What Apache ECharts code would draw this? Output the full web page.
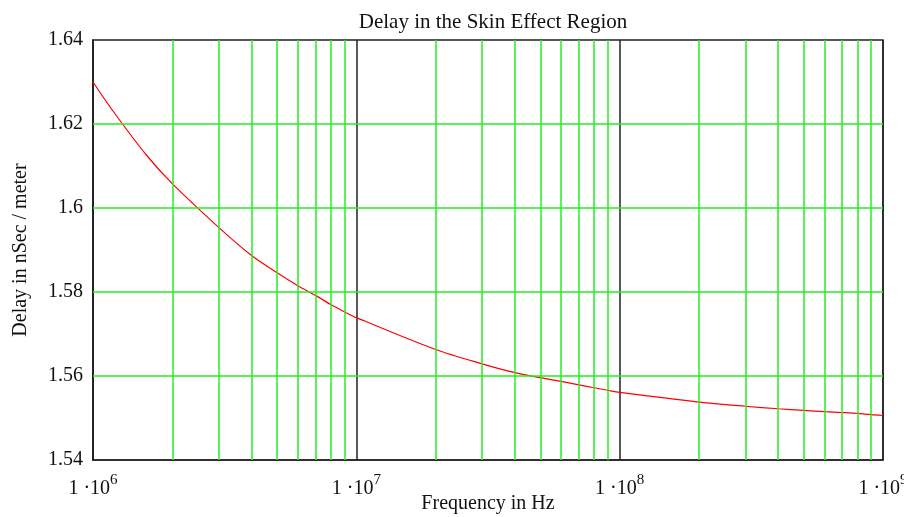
<!DOCTYPE html>
<html><head><meta charset="utf-8">
<script src="https://cdn.jsdelivr.net/npm/echarts@6/dist/echarts.min.js"></script>
<style>html,body{margin:0;padding:0;background:#fff;}#c{width:904px;height:517px;}</style>
</head><body><div id="c"></div>
<script>
const freqs = [1e6,1.2e6,1.6e6,2e6,3e6,4e6,5e6,6e6,7e6,8e6,9e6,1e7,2e7,3e7,4e7,5e7,6e7,7e7,8e7,9e7,1e8,2e8,3e8,4e8,5e8,6e8,7e8,8e8,9e8,1e9];
const delays = [1.6300,1.6228,1.6125,1.6058,1.5954,1.5887,1.5846,1.5815,1.5792,1.5770,1.5753,1.5739,1.5663,1.5629,1.5608,1.5596,1.5587,1.5579,1.5572,1.5566,1.5561,1.5538,1.5528,1.5522,1.5518,1.5515,1.5513,1.5511,1.5508,1.5506];
const minorFreqs = [2e6,3e6,4e6,5e6,6e6,7e6,8e6,9e6,2e7,3e7,4e7,5e7,6e7,7e7,8e7,9e7,2e8,3e8,4e8,5e8,6e8,7e8,8e8,9e8];
const gridYs = [1.56,1.58,1.60,1.62];
const titleText = 'Delay in the Skin Effect Region';
const xName = 'Frequency in Hz';
const yName = 'Delay in nSec / meter';

const font = 'Liberation Serif';
const green = '#22ee22';
const chart = echarts.init(document.getElementById('c'));
const mark = minorFreqs.map(f => ({xAxis: f})).concat(gridYs.map(y => ({yAxis: y})));
chart.setOption({
  animation: false,
  backgroundColor: '#fff',
  title: {text: titleText, left: 488, top: 7, textAlign: 'center',
    textStyle: {fontFamily: font, fontSize: 21, fontWeight: 'normal', color: '#111'}},
  grid: {left: 93, right: 21, top: 40, bottom: 57, outerBoundsMode: 'none', containLabel: false,
    show: true, borderColor: '#222', borderWidth: 1.5, backgroundColor: 'transparent'},
  xAxis: {type: 'log', logBase: 10, min: 1e6, max: 1e9, interval: 1,
    name: xName, nameLocation: 'middle', nameGap: 34, nameMoveOverlap: false,
    nameTextStyle: {fontFamily: font, fontSize: 20, color: '#111'},
    axisLine: {show: true, lineStyle: {color: '#222', width: 1.5}},
    axisTick: {show: false},
    splitLine: {show: true, lineStyle: {color: '#222', width: 1.5}},
    axisLabel: {margin: 11, formatter: v => '{a|1 ·10}{s|' + Math.round(Math.log10(v)) + '}',
      rich: {a: {fontFamily: font, fontSize: 20, color: '#111', verticalAlign: 'bottom', lineHeight: 28},
             s: {fontFamily: font, fontSize: 15, color: '#111', verticalAlign: 'top', lineHeight: 14, padding: [2, 0, 0, 0]}}}},
  yAxis: {type: 'value', min: 1.54, max: 1.64, interval: 0.02,
    name: yName, nameLocation: 'middle', nameGap: 62, nameRotate: 90, nameMoveOverlap: false,
    nameTextStyle: {fontFamily: font, fontSize: 20, color: '#111'},
    axisLine: {show: true, lineStyle: {color: '#222', width: 1.5}},
    axisTick: {show: false},
    splitLine: {show: false},
    axisLabel: {margin: 10, fontFamily: font, fontSize: 20, color: '#111',
      formatter: v => String(parseFloat(v.toFixed(2)))}},
  series: [{
    type: 'line', data: freqs.map((f, i) => [f, delays[i]]),
    showSymbol: false, smooth: 0.3,
    lineStyle: {color: '#ff0000', width: 1.2},
    markLine: {silent: true, symbol: 'none', label: {show: false},
      lineStyle: {color: green, width: 1.5, type: 'solid'}, data: mark}
  }]
});
</script></body></html>
